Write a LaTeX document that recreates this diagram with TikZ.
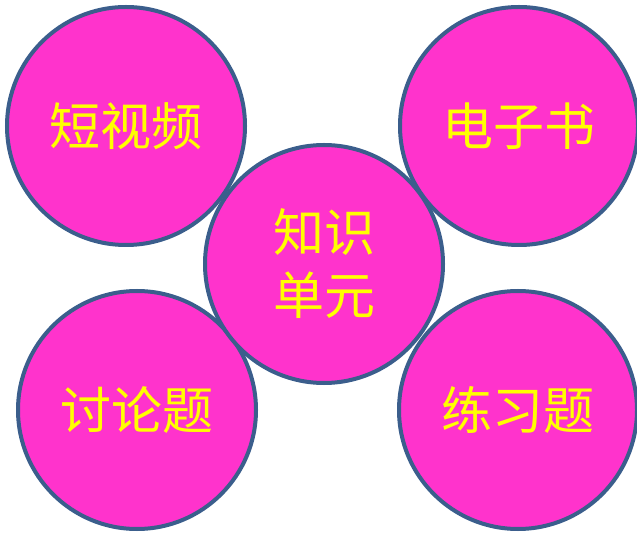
\documentclass[tikz,border=0pt]{standalone}
\usepackage{fontspec}
\newfontfamily\cjk{Noto Sans CJK SC}
\definecolor{fillpink}{HTML}{FF33CC}
\definecolor{rimblue}{HTML}{3B5E8C}
\definecolor{txtyellow}{HTML}{FFFF00}
\newcommand{\lowtxt}[1]{\raisebox{-4pt}{#1}}
\begin{document}
\begin{tikzpicture}[x=1pt,y=-1pt,
  bubble/.style={circle,draw=rimblue,fill=fillpink,line width=4pt,minimum size=238pt,inner sep=0pt,
    text=txtyellow,font=\cjk\fontsize{51}{63}\selectfont,align=center}]
\useasboundingbox (0,0) rectangle (637,534);
\node[bubble] (tl) at (126,126) {\lowtxt{短视频}};
\node[bubble] (tr) at (519,126) {\lowtxt{电子书}};
\node[bubble] (bl) at (137,410) {\lowtxt{讨论题}};
\node[bubble] (br) at (518,410) {\lowtxt{练习题}};
\node[bubble] (c) at (324,264) {知识\\单元};
\end{tikzpicture}
\end{document}
